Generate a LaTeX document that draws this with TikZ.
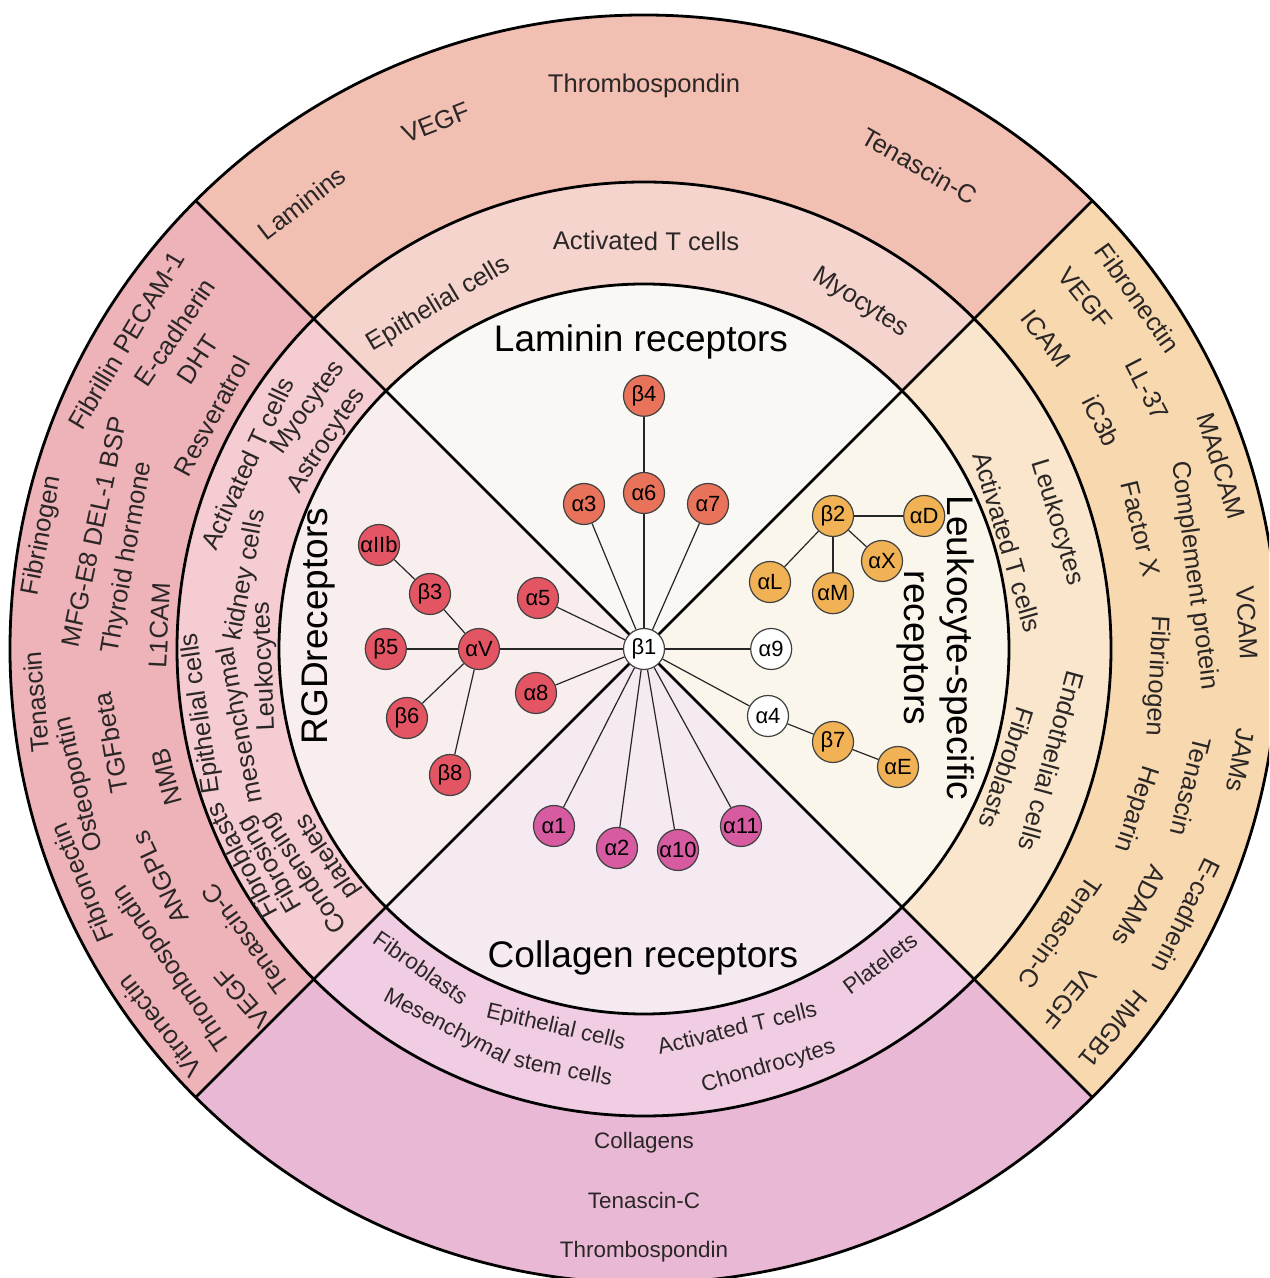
\documentclass[tikz,border=0pt]{standalone}
\usepackage{fontspec}
\setmainfont{Liberation Sans}
\usetikzlibrary{positioning}

\definecolor{lamOut}{HTML}{F2BFB3}
\definecolor{lamMid}{HTML}{F5D4CD}
\definecolor{lamIn}{HTML}{FAF8F4}
\definecolor{rgdOut}{HTML}{EDB3B9}
\definecolor{rgdMid}{HTML}{F4CCD2}
\definecolor{rgdIn}{HTML}{F9EEEE}
\definecolor{colOut}{HTML}{E8B8D5}
\definecolor{colMid}{HTML}{F0CDE3}
\definecolor{colIn}{HTML}{F5EAF2}
\definecolor{leuOut}{HTML}{F7D8AF}
\definecolor{leuMid}{HTML}{F9E6CC}
\definecolor{leuIn}{HTML}{FBF6EC}
\definecolor{lamDot}{HTML}{E9735A}
\definecolor{rgdDot}{HTML}{E45564}
\definecolor{colDot}{HTML}{D65BA1}
\definecolor{leuDot}{HTML}{F1B255}
\definecolor{ink}{HTML}{2B2626}

\tikzset{
    ringline/.style={line width=1.4pt},
    subunit/.style={circle, draw=black!75, line width=0.6pt, minimum size=20.5pt,
        inner sep=0pt, font=\fontsize{11}{11}\selectfont},
    lamsu/.style={subunit, fill=lamDot},
    rgdsu/.style={subunit, fill=rgdDot},
    colsu/.style={subunit, fill=colDot},
    leusu/.style={subunit, fill=leuDot},
    wsu/.style={subunit, fill=white},
    bond/.style={line width=0.6pt, draw=black!85},
    lbl/.style={inner sep=0pt, text=ink, font=\fontsize{12.8}{14}\selectfont},
    lblb/.style={lbl, font=\fontsize{11.2}{13}\selectfont},
    title/.style={inner sep=0pt, font=\fontsize{18.5}{21.5}\selectfont}
}

\begin{document}
\begin{tikzpicture}[x=0.5pt, y=0.5pt]
    \clip (-644,-629) rectangle (625,649);
    \fill[white] (-644,-629) rectangle (625,649);

    % sectors, outer ring first
    \foreach \a/\c in {45/lam, 135/rgd, 225/col, 315/leu} {
        \fill[fill=\c Out] (0,0) -- (\a:634) arc[start angle=\a, delta angle=90, radius=634] -- cycle;
        \fill[fill=\c Mid] (0,0) -- (\a:467) arc[start angle=\a, delta angle=90, radius=467] -- cycle;
        \fill[fill=\c In] (0,0) -- (\a:365) arc[start angle=\a, delta angle=90, radius=365] -- cycle;
    }
    \draw[ringline] (0,0) circle[radius=365] circle[radius=467] circle[radius=634];
    \draw[ringline] (45:634) -- (225:634) (135:634) -- (315:634);

    % titles
    \node[title] (lamT) at (-3,307) {Laminin receptors};
    \node[title] (colT) at (-1,-309) {Collagen receptors};
    \node[title, rotate=90] (rgdT) at (-326,23) {RGDreceptors};
    \node[title, rotate=-90, align=center] (leuT) at (292,1) {Leukocyte-specific\\receptors};

    % ligands and cells, top
    \foreach \a/\r/\t [count=\i] in {127.5/562/Laminins, 111.6/566/VEGF, 90/563/Thrombospondin,
        60.3/556/Tenascin-C, 120.8/401/Epithelial cells, 89.7/408/Activated T cells, 58/408/Myocytes}
        \node[lbl, rotate=\a-90] (lam\i) at (\a:\r) {\t};

    % left
    \foreach \a/\r/\t [count=\i] in {169.3/612/Fibrinogen, 149.2/603/Fibrillin PECAM-1,
        146/566/E-cadherin, 147/532/DHT, 151.7/491/Resveratrol, 168/562/MFG-E8 DEL-1 BSP,
        170/524/Thyroid hormone, 177.2/485/L1CAM, 185/610/Tenascin, 193.5/580/Osteopontin,
        190/541/TGFbeta, 195/494/NMB, 202.6/609/Fibronectin, 205.3/535/ANGPLs,
        214/569/Thrombospondin, 217.9/614/Vitronectin, 221/532/VEGF, 216/493/Tenascin-C,
        154.9/438/Activated T cells, 144.3/413/Myocytes, 146.7/379/Astrocytes,
        188.3/447/Epithelial cells, 182.6/379/Leukocytes, 207.8/455/Fibroblasts,
        210/431/Fibrosing, 190.7/410/mesenchymal, 169.5/405/kidney cells,
        213.5/407/Condensing, 213.2/378/platelets}
        \node[lbl, rotate=\a-90] (rgd\i) at (\a:\r) {\t};

    % right
    \foreach \a/\r/\t [count=\i] in {35.4/606/Fibronectin, 38.5/564/VEGF, 37.7/508/ICAM,
        27.3/566/LL-37, 26.5/511/iC3b, 17.6/606/MAdCAM, 7.6/555/Complement protein,
        13.6/511/Factor X, 2.5/604/VCAM, -3/513/Fibrinogen, -10.6/607/JAMs,
        -14.1/564/Tenascin, -18/517/Heparin, -26.2/605/E-cadherin, -27.4/558/ADAMs,
        -34.3/504/Tenascin-C, -39.4/550/VEGF, -39/604/HMGB1,
        17/432/Leukocytes, 16.4/379/Activated T cells, -15.4/423/Endothelial cells,
        -18.1/382/Fibroblasts}
        \node[lbl, rotate=\a-90] (leu\i) at (\a:\r) {\t};

    % bottom
    \foreach \a/\r/\t [count=\i] in {235/389/Fibroblasts, 256.9/389/Epithelial cells,
        283.8/390/Activated T cells, 306.9/393/Platelets, 242.4/427/Mesenchymal,
        259.1/427/stem cells, 286.6/436/Chondrocytes, 270/494/Collagens,
        270/551/Tenascin-C, 270/603/Thrombospondin}
        \node[lblb, rotate=\a+90] (col\i) at (\a:\r) {\t};

    % integrin subunits
    \node[wsu] (b1) at (0,0) {β1};
    \node[lamsu] (a6) at (0,156) {α6};
    \node[lamsu, above=27.5pt of a6] (b4) {β4};
    \node[lamsu] (a3) at (-60,145) {α3};
    \node[lamsu] (a7) at (64,145) {α7};
    \node[rgdsu] (a5) at (-106,51) {α5};
    \node[rgdsu] (a8) at (-108,-44) {α8};
    \node[rgdsu] (aV) at (-165,0) {αV};
    \node[rgdsu, left=25.5pt of aV] (b5) {β5};
    \node[rgdsu] (b3) at (-214,55) {β3};
    \node[rgdsu] (aIIb) at (-265,104) {αIIb};
    \node[rgdsu] (b6) at (-237,-69) {β6};
    \node[rgdsu] (b8) at (-194,-126) {β8};
    \node[colsu] (a1) at (-90,-177) {α1};
    \node[colsu] (a2) at (-27,-199) {α2};
    \node[colsu] (a10) at (34,-201) {α10};
    \node[colsu] (a11) at (97,-177) {α11};
    \node[wsu, right=42.5pt of b1] (a9) {α9};
    \node[wsu] (a4) at (124,-67) {α4};
    \node[leusu] (b7) at (189,-93) {β7};
    \node[leusu] (aE) at (254,-118) {αE};
    \node[leusu] (b2) at (189,133) {β2};
    \node[leusu, right=24.5pt of b2] (aD) {αD};
    \node[leusu] (aX) at (238,88) {αX};
    \node[leusu, below=17.5pt of b2] (aM) {αM};
    \node[leusu] (aL) at (126,67) {αL};

    % pairings
    \draw[bond] (b1) -- (a6) -- (b4);
    \foreach \n in {a3,a7,a5,aV,a8,a1,a2,a10,a11,a9,a4}
        \draw[bond] (b1) -- (\n);
    \foreach \n in {b5,b3,b6,b8}
        \draw[bond] (aV) -- (\n);
    \draw[bond] (b3) -- (aIIb);
    \draw[bond] (a4) -- (b7) -- (aE);
    \foreach \n in {aD,aX,aM,aL}
        \draw[bond] (b2) -- (\n);
\end{tikzpicture}
\end{document}
